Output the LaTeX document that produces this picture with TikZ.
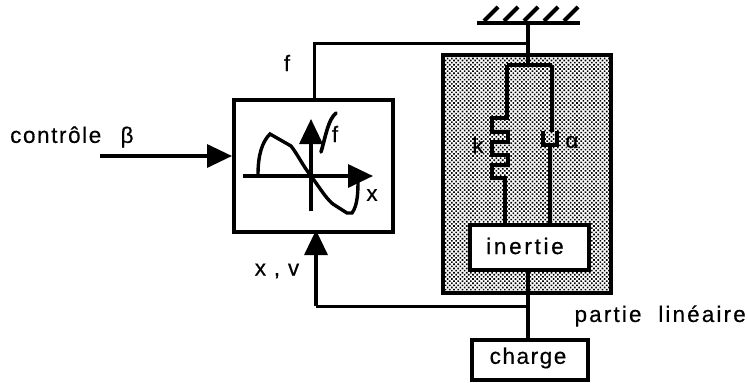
\documentclass[tikz,border=0pt]{standalone}
\usepackage{fontspec}
\setmainfont{Liberation Sans}[FakeBold=0.35]
\usetikzlibrary{arrows.meta,patterns.meta}
\tikzset{
 wire/.style={line width=3.4pt,line join=miter},
 thin wire/.style={line width=3pt},
 boxnode/.style={draw,line width=3.6pt,fill=white,inner sep=0pt,anchor=north west},
 lbl/.style={inner sep=0pt,font=\fontsize{22.5}{24}\selectfont\addfontfeature{LetterSpace=7}},
 wide lbl/.style={inner sep=0pt,font=\fontsize{22.5}{24}\selectfont\addfontfeature{LetterSpace=12}},
 mid lbl/.style={inner sep=0pt,font=\fontsize{22.5}{24}\selectfont\addfontfeature{LetterSpace=9.5}},
 big/.style={-{Triangle[length=25pt,width=23pt]}},
}
\begin{document}
\begin{tikzpicture}[x=1pt,y=-1pt]
\useasboundingbox (0,0) rectangle (748,383);
% shaded block
\node[draw,line width=3.6pt,minimum width=168pt,minimum height=238pt,anchor=north west,inner sep=0pt,
  preaction={fill=white},postaction={pattern={Dots[distance=3pt,angle=45,radius=1.15pt]},pattern color=black}] (bloc) at (441,53) {};
% ground
\coordinate (gl) at (477,23); \coordinate (gr) at (580,23); \coordinate (gm) at (528,23);
\draw[line width=3.6pt] (gl) -- (gr);
\foreach \x in {487,507,527,547,567} \draw[line width=4pt] (\x-3,21) -- (\x+11,7);
% boxes
\node[boxnode,minimum width=159pt,minimum height=132pt] (ctrl) at (232,98) {};
\node[boxnode,minimum width=119pt,minimum height=45pt] (inertie) at (468,223) {};
\node[boxnode,minimum width=116pt,minimum height=40pt] (charge) at (470,338) {};
\node[wide lbl] at (525,246) {inertie};
\node[lbl] at (528,358) {charge};
% coordinates
\coordinate (ltop) at (507,65); \coordinate (rtop) at (552,65); \coordinate (fm) at (528,43); \coordinate (fl) at (314,43);
\coordinate (ret) at (528,306); \coordinate (retl) at (316,306); \coordinate (cin) at (100,156);
% connectors
\draw[wire] (gm) -- (528,65);
\draw[thin wire] (fm) -- (fl) -- (fl |- ctrl.north);
\draw[wire] (ltop) -- (rtop);
\draw[wire] (ltop) -- (507,118) -- (492,118) -- (492,132) -- (508,132) -- (508,142) -- (492,142) -- (492,155) -- (508,155) -- (508,165) -- (492,165) -- (492,178) -- (505,178) -- (505,223);
\draw[wire] (rtop) -- (552,132) (543,131) -- (543,145) -- (557,145) -- (557,131) (550,145) -- (550,223);
\draw[wire] (inertie.south -| ret) -- (charge.north -| ret);
\draw[thin wire] (ret) -- (retl);
\draw[wire,big] (retl) -- (316,230);
\draw[wire,big] (cin) -- (232,156);
% characteristic
\draw[wire,big] (243,176) -- (373,176);
\draw[wire,big] (311,211) -- (311,119);
\draw[wire,line cap=round] (258,175) .. controls (258,155) and (262,142) .. (270,134) -- (291,146) .. controls (298,155) and (303,166) .. (311,176) .. controls (320,188) and (328,202) .. (336,206) -- (347,213) -- (352,213) .. controls (358,205) and (358,190) .. (358,180);
\draw[line width=3.6pt,line cap=round] (321,152) .. controls (326,135) and (328,120) .. (336,113);
% labels
\node[lbl,anchor=west] at (10,137) {contrôle\ \ \,β};
\node[lbl] at (287,63) {f};
\node[lbl] at (335,134) {f};
\node[lbl] at (372,195) {x};
\node[lbl] at (478,145) {k};
\node[lbl] at (572,142) {α};
\node[lbl] at (277,271) {x , v};
\node[mid lbl,anchor=east] at (746,316) {partie\ \ linéaire};
\end{tikzpicture}
\end{document}
